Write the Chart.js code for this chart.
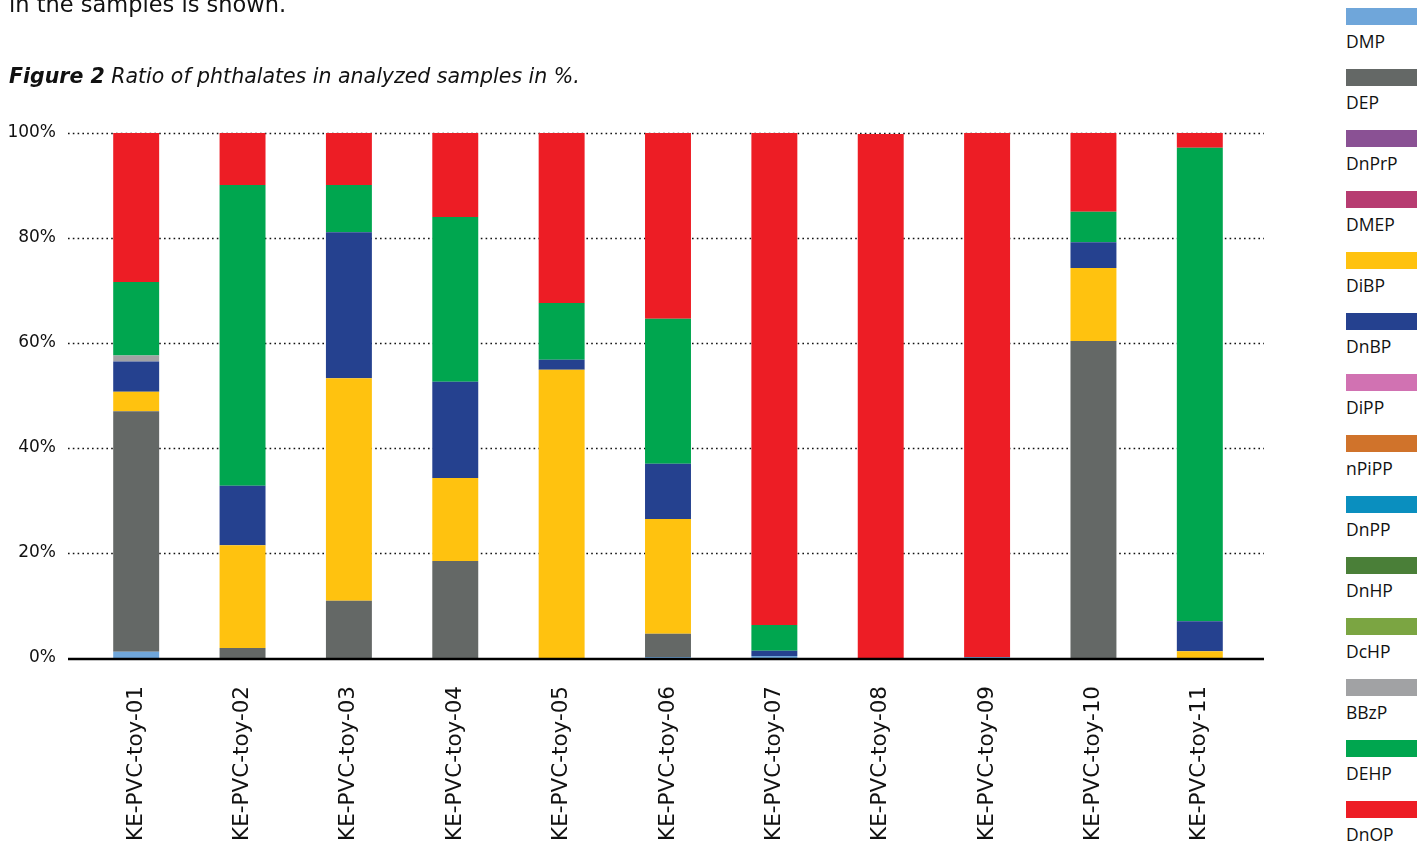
<!DOCTYPE html>
<html>
<head>
<meta charset="utf-8">
<script src="https://cdn.jsdelivr.net/npm/chart.js@4"></script>
<style>
  body { margin: 0; background: #fff; font-family: 'DejaVu Sans', sans-serif; color: #111; overflow: hidden; }
  .page { position: relative; width: 1417px; height: 847px; }
  .intro { position: absolute; left: 9px; top: -9px; font-size: 22.5px; }
  .caption { position: absolute; left: 9px; top: 64px; font-size: 20.5px; font-style: italic; }
  .caption b { font-weight: 700; }
  .chart-box { position: absolute; left: 0; top: 0; width: 1280px; height: 847px; }
  #legend { position: absolute; left: 1346px; top: 8px; width: 71px; }
  #legend .item { height: 61px; }
  #legend .sw { width: 71px; height: 17px; }
  #legend .lb { margin-top: 4px; font-family: 'Open Sans', sans-serif; font-size: 17.5px; }
</style>
</head>
<body>
<div class="page">
  <div class="chart-box"><canvas id="myChart"></canvas></div>
  <div class="intro">in the samples is shown.</div>
  <div class="caption"><b>Figure 2</b> Ratio of phthalates in analyzed samples in %.</div>
  <div id="legend"></div>
</div>
<script>
const labels = [
  'KE-PVC-toy-01', 'KE-PVC-toy-02', 'KE-PVC-toy-03', 'KE-PVC-toy-04',
  'KE-PVC-toy-05', 'KE-PVC-toy-06', 'KE-PVC-toy-07', 'KE-PVC-toy-08',
  'KE-PVC-toy-09', 'KE-PVC-toy-10', 'KE-PVC-toy-11'
];
const yTicks = [0, 20, 40, 60, 80, 100];

// share of each phthalate per sample, in %
const DMP   = [1.2, 0, 0, 0, 0, 0.2, 0.4, 0, 0.2, 0, 0];
const DEP   = [45.8, 1.9, 10.9, 18.5, 0, 4.4, 0, 0, 0, 60.4, 0];
const DnPrP = [0, 0, 0, 0, 0, 0, 0, 0, 0, 0, 0];
const DMEP  = [0, 0, 0, 0, 0, 0, 0, 0, 0, 0, 0];
const DiBP  = [3.7, 19.6, 42.4, 15.8, 54.9, 21.9, 0, 0, 0, 13.9, 1.3];
const DnBP  = [5.8, 11.3, 27.8, 18.3, 1.9, 10.5, 1.0, 0, 0, 4.9, 5.7];
const DiPP  = [0, 0, 0, 0, 0, 0, 0, 0, 0, 0, 0];
const nPiPP = [0, 0, 0, 0, 0, 0, 0, 0, 0, 0, 0];
const DnPP  = [0, 0, 0, 0, 0, 0, 0, 0, 0, 0, 0];
const DnHP  = [0, 0, 0, 0, 0, 0, 0, 0, 0, 0, 0];
const DcHP  = [0, 0, 0, 0, 0, 0, 0, 0, 0, 0, 0];
const BBzP  = [1.1, 0, 0, 0, 0, 0, 0, 0, 0, 0, 0];
const DEHP  = [14.0, 57.3, 9.0, 31.4, 10.8, 27.6, 4.9, 0, 0, 5.8, 90.2];
const DnOP  = [28.4, 9.9, 9.9, 16.0, 32.4, 35.4, 93.7, 99.8, 99.8, 15.0, 2.8];

const series = [
  ['DMP', DMP, '#6fa6da'],
  ['DEP', DEP, '#646866'],
  ['DnPrP', DnPrP, '#8a5194'],
  ['DMEP', DMEP, '#b73c71'],
  ['DiBP', DiBP, '#ffc20f'],
  ['DnBP', DnBP, '#25418f'],
  ['DiPP', DiPP, '#d172b2'],
  ['nPiPP', nPiPP, '#d0732b'],
  ['DnPP', DnPP, '#0a8fbf'],
  ['DnHP', DnHP, '#4a7f38'],
  ['DcHP', DcHP, '#7ba542'],
  ['BBzP', BBzP, '#a1a2a4'],
  ['DEHP', DEHP, '#00a64f'],
  ['DnOP', DnOP, '#ed1d25']
];

// dotted grid + solid zero line, a bit wider than the plot like the original
const gridPlugin = {
  id: 'gridPlugin',
  beforeDatasetsDraw(chart) {
    const { ctx, chartArea, scales } = chart;
    const x0 = chartArea.left - 15, x1 = chartArea.right + 11;
    ctx.save();
    ctx.setLineDash([1.6, 3.2]);
    ctx.lineWidth = 1.6;
    ctx.strokeStyle = '#111';
    yTicks.filter(v => v > 0).forEach(v => {
      const y = Math.round(scales.y.getPixelForValue(v)) + 0.5;
      ctx.beginPath();
      ctx.moveTo(x0, y);
      ctx.lineTo(x1, y);
      ctx.stroke();
    });
    ctx.restore();
  },
  afterDatasetsDraw(chart) {
    const { ctx, chartArea, scales } = chart;
    const y = scales.y.getPixelForValue(0) + 1;
    ctx.save();
    ctx.lineWidth = 2.5;
    ctx.strokeStyle = '#000';
    ctx.beginPath();
    ctx.moveTo(chartArea.left - 15, y);
    ctx.lineTo(chartArea.right + 11, y);
    ctx.stroke();
    ctx.restore();
  }
};

const renderChart = () => {
  const ctx = document.getElementById('myChart');
  new Chart(ctx, {
    type: 'bar',
    data: {
      labels: labels,
      datasets: series.map(([name, values, color]) => ({
        label: name,
        data: values,
        backgroundColor: color,
        borderWidth: 0,
        categoryPercentage: 1,
        barPercentage: 0.432
      }))
    },
    options: {
      responsive: true,
      maintainAspectRatio: false,
      animation: false,
      layout: { padding: { top: 133, right: 27, left: 0, bottom: 0 } },
      plugins: { legend: { display: false }, tooltip: { enabled: false } },
      scales: {
        x: {
          stacked: true,
          grid: { display: false },
          border: { display: false },
          afterFit: s => { s.height = 189; },
          ticks: {
            minRotation: 90,
            maxRotation: 90,
            padding: 20,
            color: '#111',
            font: { family: 'DejaVu Sans', size: 21.5 }
          }
        },
        y: {
          stacked: true,
          min: 0,
          max: 100,
          grid: { display: false },
          border: { display: false },
          afterFit: s => { s.width = 83; },
          afterBuildTicks: s => { s.ticks = yTicks.map(v => ({ value: v })); },
          ticks: {
            padding: 19,
            color: '#111',
            font: { family: 'DejaVu Sans', size: 17 },
            callback: v => v + '%'
          }
        }
      }
    },
    plugins: [gridPlugin]
  });
};

const renderLegend = () => {
  const box = document.getElementById('legend');
  series.forEach(([name, , color]) => {
    const item = document.createElement('div');
    item.className = 'item';
    item.innerHTML = '<div class="sw" style="background:' + color + '"></div><div class="lb">' + name + '</div>';
    box.appendChild(item);
  });
};

window.addEventListener('load', () => {
  renderChart();
  renderLegend();
});
</script>
</body>
</html>
